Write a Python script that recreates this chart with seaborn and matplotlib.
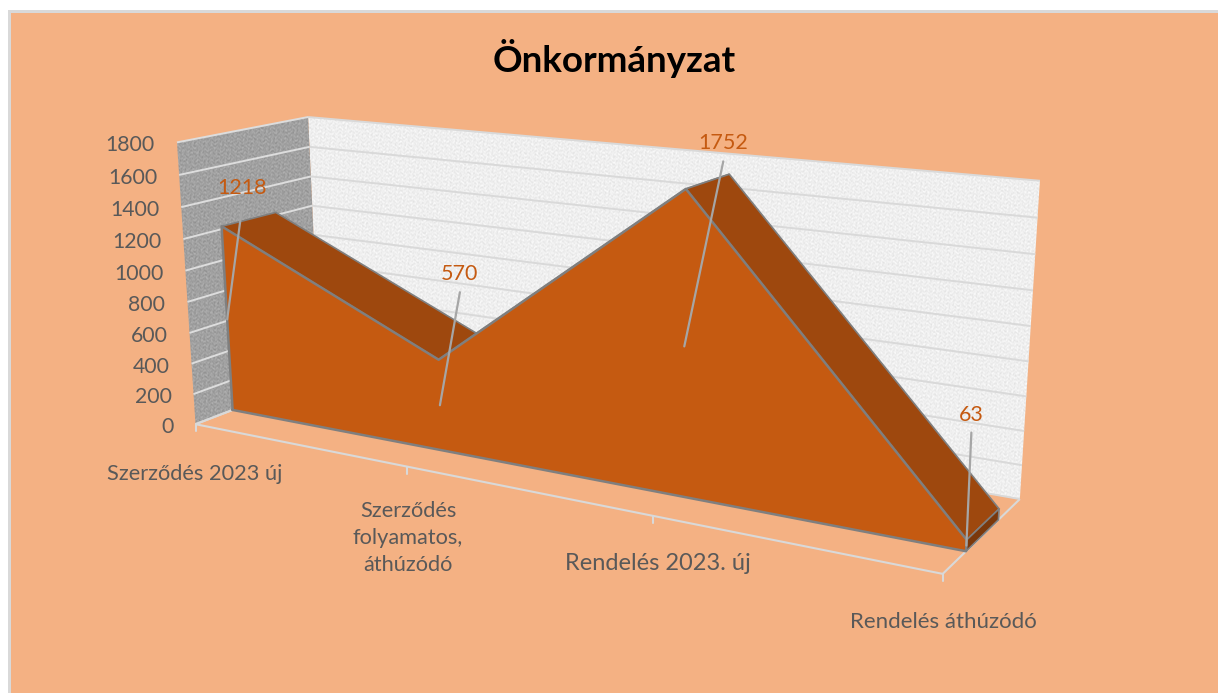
import numpy as np
import pandas as pd
import matplotlib
matplotlib.use("Agg")
import matplotlib.pyplot as plt
from matplotlib.patches import Polygon
import seaborn as sns

categories = ["Szerződés 2023 új", "Szerződés\nfolyamatos,\náthúzódó", "Rendelés 2023. új", "Rendelés áthúzódó"]
values = [1218, 570, 1752, 63]
y_ticks = [0, 200, 400, 600, 800, 1000, 1200, 1400, 1600, 1800]

# where the labels sit on the canvas, pixels
cat_label_pos = [(195, 474), (408, 538), (658, 563), (943, 622)]
cat_label_size = [15.7, 15.7, 17, 16]
value_label_offset = [(15, -131), (20, -131), (39, -203), (5, -131)]

BG = "#F4B183"
ORANGE = "#C55A11"
DARK = "#9E480E"
EDGE = "#7F7F7F"
GRID = "#D9D9D9"
TEXT = "#595959"
DEPTH_FRONT = 0.28
DEPTH_BACK = 0.70


def fit_camera():
    # box corners and axis ticks seen in the picture: (x, value, depth) -> pixel
    corners = [
        ((0, 0, 0), (195, 423)),
        ((0, 1800, 0), (177, 142)),
        ((0, 0, 1), (320, 376)),
        ((0, 1800, 1), (308, 118)),
        ((1, 0, 0), (942, 573)),
        ((1, 0, 1), (1020, 499)),
        ((1, 1800, 1), (1040, 180)),
        ((1 / 3, 0, 0), (408, 467)),
        ((2 / 3, 0, 0), (653, 518)),
    ]
    rows = []
    for (x, v, d), (u, w) in corners:
        p = [x, v / 1800, d, 1]
        rows.append(p + [0, 0, 0, 0] + [-u * c for c in p])
        rows.append([0, 0, 0, 0] + p + [-w * c for c in p])
    _, _, vt = np.linalg.svd(np.array(rows, dtype=float))
    return vt[-1].reshape(3, 4)


P = fit_camera()


def proj(x, v, d):
    q = P @ np.array([x, v / 1800, d, 1.0])
    return q[0] / q[2], q[1] / q[2]


def poly(ax, pts, **kw):
    xy = np.array([proj(*p) for p in pts])
    ax.fill(xy[:, 0], xy[:, 1], **kw)


def seg(ax, a, b, **kw):
    xy = np.array([proj(*a), proj(*b)])
    ax.plot(xy[:, 0], xy[:, 1], solid_capstyle="butt", **kw)


def mottle():
    # stone-like wall surface, sum of waves, values about -1..1
    yy, xx = np.mgrid[0:693, 0:1218].astype(float)
    t = (np.sin(1.31 * xx + 2.3 * np.sin(0.71 * yy))
         + np.sin(1.73 * yy + 2.7 * np.sin(0.93 * xx))
         + np.sin(0.87 * (xx + yy) + 1.9 * np.sin(1.13 * xx - 0.61 * yy))
         + np.sin(0.53 * (xx - 1.4 * yy) + 3.1 * np.sin(0.37 * yy + 0.41 * xx)))
    return t / 3


def wall(ax, pts, base, amp, tex):
    xy = np.array([proj(*p) for p in pts])
    clip = Polygon(xy, closed=True, transform=ax.transData)
    im = ax.imshow(np.clip(base + amp * tex, 0, 1), cmap="gray", vmin=0, vmax=1,
                   extent=(0, 1218, 693, 0), aspect="auto", interpolation="bilinear", zorder=1)
    im.set_clip_path(clip)


def main():
    sns.set_theme(style="white")
    plt.rcParams["font.family"] = ["Lato", "DejaVu Sans"]

    fig = plt.figure(figsize=(12.18, 6.93), dpi=100, facecolor="white")
    ax = fig.add_axes([0, 0, 1, 1])
    ax.axis("off")

    # chart area with its grey border, cut off on the right and bottom
    ax.fill([8, 1218, 1218, 8], [10, 10, 693, 693], color=GRID, lw=0, zorder=0)
    ax.fill([11, 1218, 1218, 11], [13, 13, 693, 693], color=BG, lw=0, zorder=0)

    top = y_ticks[-1]
    tex = mottle()
    wall(ax, [(0, 0, 1), (1, 0, 1), (1, top, 1), (0, top, 1)], 0.935, 0.035, tex)
    wall(ax, [(0, 0, 0), (0, 0, 1), (0, top, 1), (0, top, 0)], 0.63, 0.05, tex)

    for t in y_ticks:
        seg(ax, (0, t, 0), (0, t, 1), color="#DDDDDD", lw=1.4, zorder=2)
        seg(ax, (0, t, 1), (1, t, 1), color=GRID, lw=1.4, zorder=2)
        x0, y0 = proj(0, t, 0)
        ax.text(x0 - 22, y0 + 3, str(t), ha="right", va="center", fontsize=15.3, color=TEXT)

    # floor edges and category ticks
    seg(ax, (0, 0, 0), (1, 0, 0), color=GRID, lw=1.5, zorder=2)
    seg(ax, (0, 0, 0), (0, 0, 1), color=GRID, lw=1.5, zorder=2)
    seg(ax, (1, 0, 0), (1, 0, 1), color=GRID, lw=1.5, zorder=2)
    xs = np.arange(len(values)) / (len(values) - 1)
    for x in xs:
        tx, ty = proj(x, 0, 0)
        ax.plot([tx, tx], [ty, ty + 7], color=GRID, lw=1.5, zorder=2)

    # top side of the area, then its end cap, then the front
    for i in range(len(values) - 1):
        poly(ax, [(xs[i], values[i], DEPTH_FRONT), (xs[i + 1], values[i + 1], DEPTH_FRONT),
                  (xs[i + 1], values[i + 1], DEPTH_BACK), (xs[i], values[i], DEPTH_BACK)],
             facecolor=DARK, edgecolor=EDGE, linewidth=1.2, zorder=3)
    poly(ax, [(1, 0, DEPTH_FRONT), (1, 0, DEPTH_BACK), (1, values[-1], DEPTH_BACK), (1, values[-1], DEPTH_FRONT)],
         facecolor="#7A380B", edgecolor=EDGE, linewidth=1.2, zorder=3)

    front = [(x, v, DEPTH_FRONT) for x, v in zip(xs, values)]
    outline = [(0, 0, DEPTH_FRONT)] + front + [(1, 0, DEPTH_FRONT), (0, 0, DEPTH_FRONT)]
    poly(ax, outline, facecolor=ORANGE, edgecolor="none", linewidth=0, zorder=4)
    px = pd.DataFrame([proj(*p) for p in outline], columns=["px", "py"])
    sns.lineplot(data=px, x="px", y="py", sort=False, estimator=None, color=EDGE, lw=1.8,
                 ax=ax, legend=False, zorder=5)

    # value labels with leader lines from the middle of the front face
    for x, v, (dx, dy) in zip(xs, values, value_label_offset):
        ax0, ay0 = proj(x, v / 2, DEPTH_FRONT)
        lx, ly = ax0 + dx, ay0 + dy
        ax.plot([ax0, lx], [ay0, ly + 18], color="#A6A6A6", lw=1.6, zorder=6)
        ax.text(lx, ly, str(v), ha="center", va="center", fontsize=15.5, color=ORANGE, zorder=7)

    for name, (cx, cy), size in zip(categories, cat_label_pos, cat_label_size):
        ax.text(cx, cy, name, ha="center", va="center", fontsize=size, color=TEXT, linespacing=1.45)

    ax.text(614, 58, "Önkormányzat", ha="center", va="center", fontsize=26.5, fontweight="bold", color="black")

    ax.set_xlim(0, 1218)
    ax.set_ylim(693, 0)
    fig.savefig("out.png", dpi=100, facecolor="white")


if __name__ == "__main__":
    main()
